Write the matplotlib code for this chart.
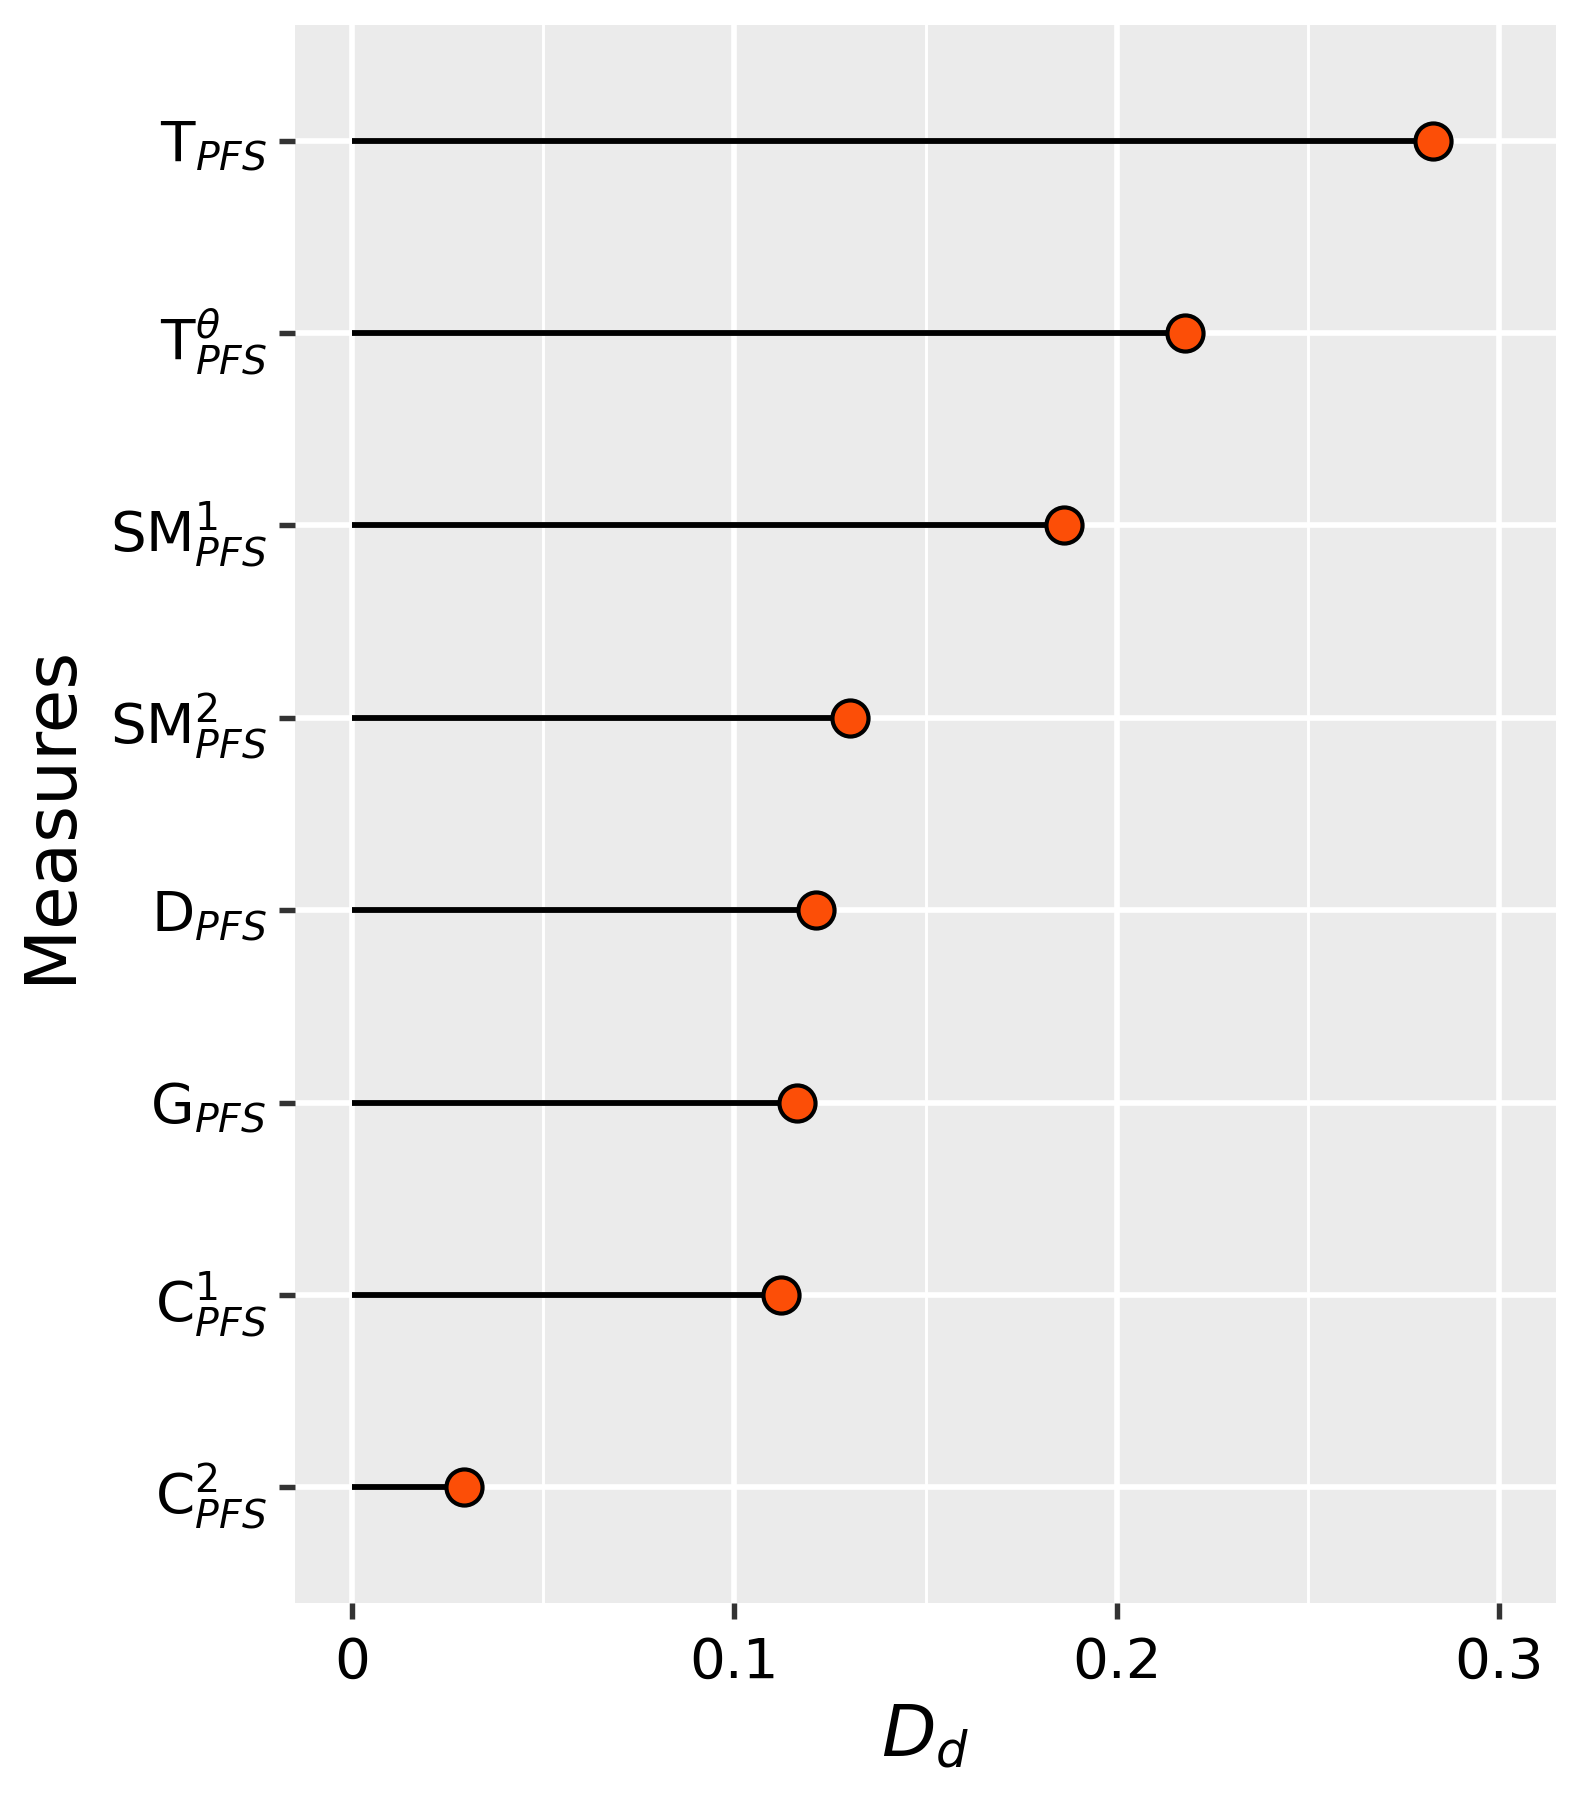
import matplotlib
matplotlib.use("Agg")
import matplotlib.pyplot as plt
from matplotlib.ticker import MultipleLocator

# measures from bottom to top
measures = [r'$\mathrm{C}_{PFS}^{2}$', r'$\mathrm{C}_{PFS}^{1}$', r'$\mathrm{G}_{PFS}$',
            r'$\mathrm{D}_{PFS}$', r'$\mathrm{SM}_{PFS}^{2}$', r'$\mathrm{SM}_{PFS}^{1}$',
            r'$\mathrm{T}_{PFS}^{\theta}$', r'$\mathrm{T}_{PFS}$']
dd_values = [0.0292, 0.1121, 0.1164, 0.1212, 0.1302, 0.1863, 0.2180, 0.2828]
x_ticks = [0, 0.1, 0.2, 0.3]
x_tick_labels = ['0', '0.1', '0.2', '0.3']

fig = plt.figure(figsize=(1571 / 300, 1797 / 300), dpi=300)
ax = fig.add_axes([0.1878, 0.108, 0.8027, 0.878])
ax.set_facecolor('#EBEBEB')

ypos = list(range(1, len(measures) + 1))

# grid
ax.xaxis.set_minor_locator(MultipleLocator(0.05))
ax.grid(which='major', color='white', linewidth=1.35)
ax.grid(which='minor', axis='x', color='white', linewidth=0.7)
ax.set_axisbelow(True)

# lollipops
ax.hlines(ypos, 0, dd_values, color='black', linewidth=1.4, zorder=3)
ax.scatter(dd_values, ypos, s=75, c='#FC4E07', edgecolors='black',
           linewidths=1.0, zorder=4)

ax.set_xlim(-0.015, 0.315)
ax.set_ylim(0.4, len(measures) + 0.6)
ax.set_xticks(x_ticks)
ax.set_xticklabels(x_tick_labels)
ax.set_yticks(ypos)
ax.set_yticklabels(measures)

for s in ax.spines.values():
    s.set_visible(False)
ax.tick_params(axis='both', which='major', length=3.8, width=1.3, color='#333333',
               labelsize=13.5, labelcolor='black')
ax.tick_params(axis='y', pad=3)
ax.tick_params(axis='x', pad=4)
ax.tick_params(which='minor', length=0)

ax.set_xlabel(r'$D_d$', fontsize=17, labelpad=3)
ax.set_ylabel('Measures', fontsize=17, labelpad=6)

fig.savefig('out.png', dpi=300)
